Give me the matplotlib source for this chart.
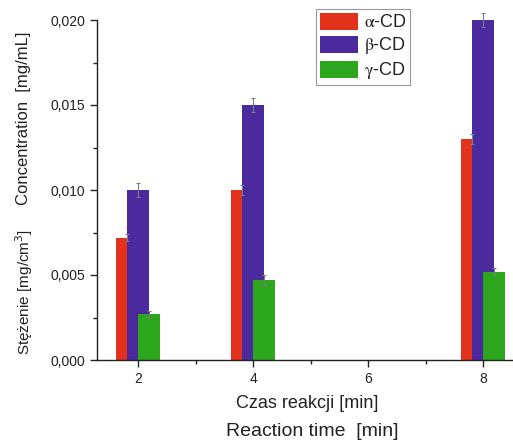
import matplotlib
matplotlib.use("Agg")
import matplotlib.pyplot as plt
from matplotlib.ticker import MultipleLocator, FuncFormatter
import numpy as np

plt.rcParams["font.family"] = ["Liberation Sans", "DejaVu Sans"]

times = [2, 4, 8]
series = [r"$\mathrm{\alpha}$-CD", r"$\mathrm{\beta}$-CD", r"$\mathrm{\gamma}$-CD"]
alpha_cd = [0.0072, 0.0100, 0.0130]
beta_cd = [0.0100, 0.0150, 0.0200]
gamma_cd = [0.0027, 0.0047, 0.0052]
alpha_err = [0.0002, 0.0003, 0.0003]
beta_err = [0.0004, 0.0004, 0.0004]
gamma_err = [0.0002, 0.0003, 0.0002]

colors = ["#e2321c", "#4a2a9c", "#2ca61c"]

W, H = 513, 441
fig = plt.figure(figsize=(W / 100, H / 100), dpi=100)
ax = fig.add_axes([97 / W, 81 / H, 1 - 97 / W, 340 / H])

w = 0.38
offs = [-0.19, 0.0, 0.19]
x = np.array(times, dtype=float)
for vals, errs, c, lab, o in zip([alpha_cd, beta_cd, gamma_cd],
                                 [alpha_err, beta_err, gamma_err],
                                 colors, series, offs):
    ax.bar(x + o, vals, width=w, color=c, label=lab, zorder=2)
    eb = ax.errorbar(x + o, vals, yerr=errs, fmt="none", ecolor="#7a7a8a",
                     elinewidth=0.8, capsize=1.5, capthick=0.8, zorder=3)
    for art in eb.lines[1] + eb.lines[2]:
        art.set_clip_on(False)

ax.set_xlim(2 - 41 / 57.5, 2 + 375 / 57.5)
ax.set_ylim(0, 0.020)
ax.xaxis.set_major_locator(MultipleLocator(2))
ax.xaxis.set_minor_locator(MultipleLocator(1))
ax.yaxis.set_major_locator(MultipleLocator(0.005))
ax.yaxis.set_minor_locator(MultipleLocator(0.0025))
ax.yaxis.set_major_formatter(FuncFormatter(lambda v, p: f"{v:.3f}".replace(".", ",")))
ax.set_xticks([2, 4, 6, 8])
ax.spines["top"].set_visible(False)
ax.spines["right"].set_visible(False)
for s in ["left", "bottom"]:
    ax.spines[s].set_linewidth(1.0)
    ax.spines[s].set_color("#222222")
ax.tick_params(which="major", direction="out", length=5, width=1, labelsize=10,
               colors="#222222")
ax.tick_params(which="minor", direction="out", length=3, width=1, colors="#222222")

# legend box: x 316..408, y 9..84 px
leg = ax.legend(loc="upper left", bbox_to_anchor=(316 / W, 1 - 9 / H),
                bbox_transform=fig.transFigure, borderaxespad=0, fontsize=13,
                frameon=True, fancybox=False, edgecolor="#999999", framealpha=1,
                handlelength=2.15, handleheight=1.1, borderpad=0.2,
                labelspacing=0.22, handletextpad=0.3)
leg.get_frame().set_linewidth(0.8)
for t in leg.get_texts():
    t.set_math_fontfamily("stix")
    t.set_color("#222222")

fig.text(307 / W, 1 - 404 / H, "Czas reakcji [min]", ha="center",
         va="center", fontsize=13, color="#222222")
fig.text(312 / W, 1 - 431 / H, "Reaction time  [min]", ha="center",
         va="center", fontsize=14, color="#222222")
fig.text(24 / W, 1 - 292 / H, "Stężenie [mg/cm$^3$]", rotation=90, ha="center",
         va="center", fontsize=11, color="#222222")
fig.text(24 / W, 1 - 118 / H, "Concentration  [mg/mL]", rotation=90, ha="center",
         va="center", fontsize=12, color="#222222")

fig.savefig("out.png", dpi=100)
